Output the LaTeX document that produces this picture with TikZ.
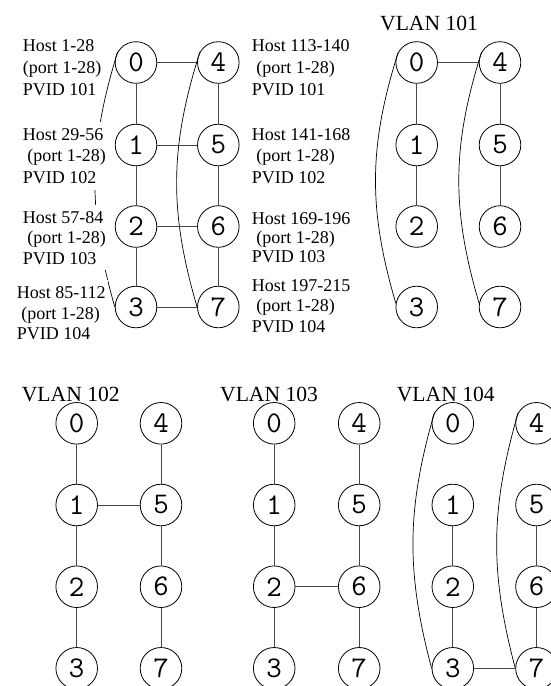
\documentclass[tikz,border=0pt]{standalone}
\usepackage{fontspec}
\setmainfont{Liberation Serif}
\newcommand{\hostblock}[4]{\vtop{\baselineskip=#1\hbox{#2}\hbox{#3}\hbox{#4}}}
\tikzset{
  sw/.style={circle, draw, line width=0.8pt, minimum size=41.6pt, inner sep=0pt,
    font=\fontsize{30}{30}\selectfont\ttfamily},
  link/.style={line width=0.9pt, draw=black!72},
  loop/.style={line width=0.7pt, draw=black},
  hostlbl/.style={anchor=base west, fill=white, inner xsep=2pt, inner ysep=6pt,
    font=\fontsize{18}{21}\selectfont},
  vlan/.style={anchor=base west, inner sep=0pt, font=\fontsize{21.6}{24}\selectfont}
}
\begin{document}
\begin{tikzpicture}[x=1pt,y=-1pt]
\useasboundingbox (0,0) rectangle (550,686);
% ---------- top left: full topology ----------
\node[sw] (a0) at (136,62.5) {0};
\node[sw] (a1) at (136,145) {1};
\node[sw] (a2) at (136,226.5) {2};
\node[sw] (a3) at (136,307) {3};
\node[sw] (a4) at (218.3,62.5) {4};
\node[sw] (a5) at (218.3,145) {5};
\node[sw] (a6) at (218.3,226.5) {6};
\node[sw] (a7) at (218.3,307) {7};
\draw[link] (a0) -- (a1) (a1) -- (a2) (a2) -- (a3)
            (a4) -- (a5) (a5) -- (a6) (a6) -- (a7)
            (a0) -- (a4) (a1) -- (a5) (a2) -- (a6) (a3) -- (a7);
\draw[loop] (a0.150) to[bend right=16.5] (a3.180);
\draw[loop] (a4.150) to[bend right=17] (a7.180);
% host labels
\node[hostlbl] (l1) at (20.7,51.7) {\hostblock{21.7pt}{Host 1-28}{(port 1-28)}{PVID 101}};
\node[hostlbl] (l2) at (20.7,140) {\hostblock{21.7pt}{Host 29-56}{\ (port 1-28)}{PVID 102}};
\node[hostlbl] (l3) at (20.7,223.3) {\hostblock{20.4pt}{Host 57-84}{\ (port 1-28)}{PVID 103}};
\node[hostlbl] (l4) at (14.7,298.3) {\hostblock{20.8pt}{Host 85-112}{\ (port 1-28)}{PVID 104}};
\node[hostlbl] (r1) at (249.7,51.7) {\hostblock{21.7pt}{Host 113-140}{\ (port 1-28)}{PVID 101}};
\node[hostlbl] (r2) at (249.7,140) {\hostblock{21.7pt}{Host 141-168}{\ (port 1-28)}{PVID 102}};
\node[hostlbl] (r3) at (249.7,224.3) {\hostblock{19.2pt}{Host 169-196}{\ (port 1-28)}{PVID 103}};
\node[hostlbl] (r4) at (249.7,291.7) {\hostblock{20.2pt}{Host 197-215}{\ (port 1-28)}{PVID 104}};
% ---------- VLAN 101 ----------
\node[vlan] (t101) at (380,30) {VLAN 101};
\node[sw] (b0) at (416.7,62.5) {0};
\node[sw] (b1) at (416.7,145) {1};
\node[sw] (b2) at (416.7,226.5) {2};
\node[sw] (b3) at (416.7,307) {3};
\node[sw] (b4) at (500,62.5) {4};
\node[sw] (b5) at (500,145) {5};
\node[sw] (b6) at (500,226.5) {6};
\node[sw] (b7) at (500,307) {7};
\draw[link] (b0) -- (b1) (b1) -- (b2) (b4) -- (b5) (b5) -- (b6) (b0) -- (b4);
\draw[loop] (b0.150) to[bend right=17] (b3.170);
\draw[loop] (b4.150) to[bend right=17] (b7.170);
% ---------- VLAN 102 ----------
\node[vlan] (t102) at (21.7,401.7) {VLAN 102};
\node[sw] (c0) at (76.7,423.3) {0};
\node[sw] (c1) at (76.7,505) {1};
\node[sw] (c2) at (76.7,586.7) {2};
\node[sw] (c3) at (76.7,668.3) {3};
\node[sw] (c4) at (161,423.3) {4};
\node[sw] (c5) at (161,505) {5};
\node[sw] (c6) at (161,586.7) {6};
\node[sw] (c7) at (161,668.3) {7};
\draw[link] (c0) -- (c1) (c1) -- (c2) (c2) -- (c3)
            (c4) -- (c5) (c5) -- (c6) (c6) -- (c7) (c1) -- (c5);
% ---------- VLAN 103 ----------
\node[vlan] (t103) at (220,401.7) {VLAN 103};
\node[sw] (d0) at (274.2,423.3) {0};
\node[sw] (d1) at (274.2,505) {1};
\node[sw] (d2) at (274.2,586.7) {2};
\node[sw] (d3) at (274.2,668.3) {3};
\node[sw] (d4) at (359.2,423.3) {4};
\node[sw] (d5) at (359.2,505) {5};
\node[sw] (d6) at (359.2,586.7) {6};
\node[sw] (d7) at (359.2,668.3) {7};
\draw[link] (d0) -- (d1) (d1) -- (d2) (d2) -- (d3)
            (d4) -- (d5) (d5) -- (d6) (d6) -- (d7) (d2) -- (d6);
% ---------- VLAN 104 ----------
\node[vlan] (t104) at (396.7,401.7) {VLAN 104};
\node[sw] (e0) at (452.8,423.3) {0};
\node[sw] (e1) at (452.8,505) {1};
\node[sw] (e2) at (452.8,586.7) {2};
\node[sw] (e3) at (452.8,668.3) {3};
\node[sw] (e4) at (536.5,423.3) {4};
\node[sw] (e5) at (536.5,505) {5};
\node[sw] (e6) at (536.5,586.7) {6};
\node[sw] (e7) at (536.5,668.3) {7};
\draw[link] (e1) -- (e2) (e2) -- (e3) (e5) -- (e6) (e6) -- (e7) (e3) -- (e7);
\draw[loop] (e0.150) to[bend right=15.5] (e3.180);
\draw[loop] (e4.150) to[bend right=15.5] (e7.180);
\end{tikzpicture}
\end{document}
